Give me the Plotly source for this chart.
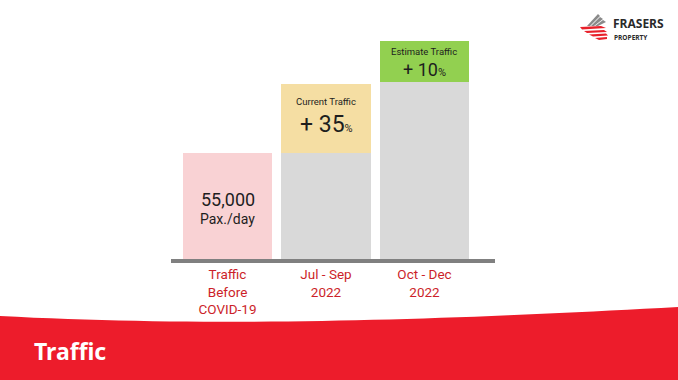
import plotly.graph_objects as go

# ---- data ----
categories = ["Traffic<br>Before<br>COVID-19", "Jul - Sep<br>2022", "Oct - Dec<br>2022"]
x_pos = [0, 1, 2]
base_values = [55000, 55000, 92000]          # bar body (pink / gray)
increment_values = [0, 36000, 21000]         # highlighted increase segment
base_colors = ["#F9D2D4", "#D9D9D9", "#D9D9D9"]
increment_colors = ["rgba(0,0,0,0)", "#F5DEA3", "#92D050"]
increment_titles = ["", "Current Traffic", "Estimate Traffic"]
increment_pcts = ["", "35", "10"]
traffic_value = "55,000"
traffic_unit = "Pax./day"
title_text = "Traffic"

W, H = 678, 380
ML, MR, MT, MB = 171, 183, 30, 121
PW, PH = W - ML - MR, H - MT - MB
Y_MAX = 118800


def px(x):
    return (x - ML) / PW


def py(y):
    return (H - MB - y) / PH


fig = go.Figure()
fig.add_trace(go.Bar(x=x_pos, y=base_values, marker=dict(color=base_colors, line=dict(width=0)),
                     width=0.904, hoverinfo="skip"))
fig.add_trace(go.Bar(x=x_pos, y=increment_values, marker=dict(color=increment_colors, line=dict(width=0)),
                     width=0.904, hoverinfo="skip"))

dark = "#1e1e1e"
ann = []
# first bar text
ann.append(dict(x=x_pos[0], y=base_values[0] * 0.56, text=traffic_value, showarrow=False,
                font=dict(family="Roboto", size=18, color=dark), xref="x", yref="y"))
ann.append(dict(x=x_pos[0], y=base_values[0] * 0.38, text=traffic_unit, showarrow=False,
                font=dict(family="Roboto", size=14, color=dark), xref="x", yref="y"))
# increment segments
pct_sizes = [0, 23, 18]
for i in (1, 2):
    b = base_values[i]
    s = increment_values[i]
    top = b + s
    if i == 1:
        ty, vy = top - s * 0.26, top - s * 0.585
    else:
        ty, vy = top - s * 0.25, top - s * 0.71
    ann.append(dict(x=x_pos[i], y=ty, text=increment_titles[i], showarrow=False,
                    font=dict(family="Roboto", size=9.5, color=dark), xref="x", yref="y"))
    ann.append(dict(x=x_pos[i], y=vy,
                    text="+ " + increment_pcts[i] + "<span style='font-size:11px'>%</span>",
                    showarrow=False, font=dict(family="Roboto", size=pct_sizes[i], color=dark),
                    xref="x", yref="y"))

# title in red band
ann.append(dict(x=px(32), y=py(351), xref="paper", yref="paper", xanchor="left", yanchor="middle",
                text="<b>" + title_text + "</b>", showarrow=False,
                font=dict(family="Noto Sans", size=23, color="white")))
# logo text
ann.append(dict(x=px(612), y=py(24), xref="paper", yref="paper", xanchor="left", yanchor="middle",
                text="<b>FRASERS</b>", showarrow=False, borderpad=0,
                font=dict(family="Open Sans", size=12, color="#2a2a2a")))
ann.append(dict(x=px(612.5), y=py(37.5), xref="paper", yref="paper", xanchor="left", yanchor="middle",
                text="<b>PROPERTY</b>", showarrow=False, borderpad=0,
                font=dict(family="Open Sans", size=6.5, color="#2a2a2a")))

shapes = []


def path(points, close=True):
    s = "M " + " L ".join(f"{px(a):.5f},{py(b):.5f}" for a, b in points)
    return s + (" Z" if close else "")


# red band with curved top
band_pts = [(0, 316)]
for k in range(1, 41):
    x = 678 * k / 40
    t = x / 678
    y = 316 + 36 * t - 62 * t * t + 17 * t ** 3
    band_pts.append((x, y))
band_pts += [(678, 380), (0, 380)]
shapes.append(dict(type="path", xref="paper", yref="paper", path=path(band_pts),
                   fillcolor="#ED1C2B", line=dict(width=0), layer="below"))

# logo icon: gray upper stripes and red lower stripes
gray_stripes = [
    [(587, 26), (598, 14), (600, 16), (590, 26)],
    [(591, 26), (600, 17), (603, 19), (594, 26)],
    [(595, 26), (603, 20), (606, 22), (598, 26)],
]
red_stripes = [
    [(580, 27), (601, 26), (606, 28), (582, 29.5)],
    [(584, 31), (604, 30), (607, 32), (587, 33)],
    [(589, 34.5), (606, 33.5), (608, 35.5), (593, 36.5)],
    [(595, 38), (607, 37), (607, 39), (599, 40)],
]
for st in gray_stripes:
    shapes.append(dict(type="path", xref="paper", yref="paper", path=path(st),
                       fillcolor="#8a8a8a", line=dict(width=0)))
for st in red_stripes:
    shapes.append(dict(type="path", xref="paper", yref="paper", path=path(st),
                       fillcolor="#E8202A", line=dict(width=0)))

fig.update_layout(
    width=W, height=H, barmode="stack", showlegend=False,
    margin=dict(l=ML, r=MR, t=MT, b=MB),
    paper_bgcolor="white", plot_bgcolor="white",
    annotations=ann, shapes=shapes,
    xaxis=dict(range=[-0.574, 2.716], tickvals=x_pos, ticktext=categories,
               showgrid=False, zeroline=False, showline=True, linewidth=4, linecolor="#808080",
               ticks="", tickfont=dict(family="Roboto", size=13.5, color="#CC1F2A"),
               fixedrange=True),
    yaxis=dict(range=[0, Y_MAX], visible=False, showgrid=False, zeroline=False, fixedrange=True),
    bargap=0,
)

fig.write_html("out.html", config={"displayModeBar": False},
               post_script="document.body.style.margin='0';document.body.style.overflow='hidden';")
